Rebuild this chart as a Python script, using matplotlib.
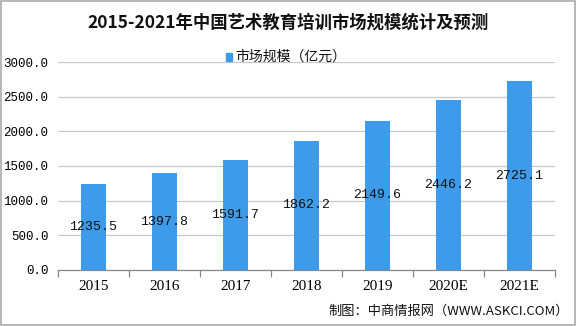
import matplotlib.pyplot as plt
from matplotlib.patches import Rectangle

# market size of art education training in China, 100 million yuan
years = ["2015", "2016", "2017", "2018", "2019", "2020E", "2021E"]
market_size = [1235.5, 1397.8, 1591.7, 1862.2, 2149.6, 2446.2, 2725.1]
y_ticks = [0, 500, 1000, 1500, 2000, 2500, 3000]

plt.rcParams["font.family"] = ["Noto Sans CJK SC", "DejaVu Sans"]
bar_color = "#3d9be9"
num_font = ["Liberation Mono", "DejaVu Sans Mono"]

fig = plt.figure(figsize=(5.76, 3.26), dpi=100)
ax = fig.add_axes([0.1007, 0.1718, 0.8628, 0.638])

x = range(len(years))
ax.bar(x, market_size, width=0.36, color=bar_color, zorder=3)
for i, v in enumerate(market_size):
    ax.text(i, v / 2, "%.1f" % v, ha="center", va="center", fontsize=9.5,
            family=num_font, color="#111111", zorder=4)

ax.set_xlim(-0.5, len(years) - 0.5)
ax.set_ylim(0, 3000)
ax.set_yticks(y_ticks)
ax.set_yticklabels(["%.1f" % t for t in y_ticks], family=num_font, fontsize=9)
ax.yaxis.grid(True, color="#c8c8c8", linewidth=0.9, zorder=0)
ax.tick_params(axis="y", length=0, pad=7)

# category labels sit between boundary ticks
ax.set_xticks(list(x))
ax.set_xticklabels(years, family=["Liberation Serif"], fontsize=11)
ax.set_xticks([i - 0.5 for i in range(len(years) + 1)], minor=True)
ax.tick_params(axis="x", which="major", length=0, pad=7)
ax.tick_params(axis="x", which="minor", length=5, color="#888888", width=0.9)

for side in ["left", "right", "top"]:
    ax.spines[side].set_visible(False)
ax.spines["bottom"].set_color("#888888")
ax.spines["bottom"].set_linewidth(0.9)

fig.text(0.5, 0.932, "2015-2021年中国艺术教育培训市场规模统计及预测",
         ha="center", va="center", fontsize=12.5, fontweight="bold", color="#111111")

# legend
fig.patches.append(Rectangle((0.392, 0.814), 0.011, 0.024, color=bar_color,
                             transform=fig.transFigure, figure=fig))
fig.text(0.408, 0.826, "市场规模（亿元）", ha="left", va="center", fontsize=10,
         color="#111111")

fig.text(0.988, 0.045, "制图：中商情报网（WWW.ASKCI.COM）", ha="right",
         va="center", fontsize=9.5, color="#111111")

# outer frame
fig.patches.append(Rectangle((0.001, 0.002), 0.997, 0.995, fill=False,
                             edgecolor="#aaaaaa", linewidth=1.2,
                             transform=fig.transFigure, figure=fig))

fig.savefig("out.png", dpi=100)
